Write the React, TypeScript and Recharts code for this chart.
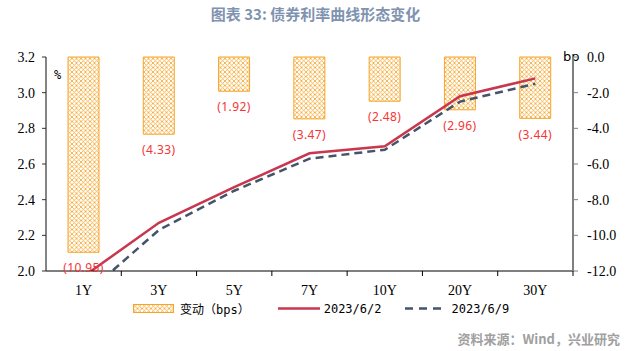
import { ComposedChart, Bar, Line, XAxis, YAxis, LabelList } from "recharts";

const CATEGORIES = ["1Y", "3Y", "5Y", "7Y", "10Y", "20Y", "30Y"];
const CHANGE_BP = [-10.95, -4.33, -1.92, -3.47, -2.48, -2.96, -3.44];
const YIELD_0602 = [1.97, 2.27, 2.47, 2.66, 2.7, 2.98, 3.08];
const YIELD_0609 = [1.86, 2.23, 2.45, 2.63, 2.68, 2.95, 3.05];
const LEFT_TICKS = [2.0, 2.2, 2.4, 2.6, 2.8, 3.0, 3.2];
const RIGHT_TICKS = [-12, -10, -8, -6, -4, -2, 0];

const W = 631;
const H = 351;
const LEFT_W = 46;
const RIGHT_W = 58;
const BAND = (W - LEFT_W - RIGHT_W) / CATEGORIES.length;

const ORANGE = "#F5A52A";
const RED = "#C8374E";
const NAVY = "#44546A";
const SERIF = "'Liberation Serif', 'Times New Roman', serif";
const MONO = "'DejaVu Sans Mono', 'Noto Sans CJK SC', monospace";

const data = CATEGORIES.map((c, i) => ({
  name: c,
  change: CHANGE_BP[i],
  y0602: YIELD_0602[i],
  y0609: YIELD_0609[i],
}));

function XTick(props: any) {
  const { x, y, payload } = props;
  return (
    <g>
      <line x1={x + BAND / 2} x2={x + BAND / 2} y1={y} y2={y + 5} stroke="#000" />
      <text x={x} y={y + 24} textAnchor="middle" fontFamily={SERIF} fontSize={14} fill="#000">
        {payload.value}
      </text>
    </g>
  );
}

function BarLabel(props: any) {
  const { x, y, width, height, value } = props;
  const bottom = Math.max(y, y + height);
  return (
    <text
      x={x + width / 2}
      y={bottom + 17}
      textAnchor="middle"
      dominantBaseline="middle"
      fontFamily="'Noto Sans', sans-serif"
      fontSize={12}
      letterSpacing={0.4}
      fill="#F53535"
    >
      {`(${Math.abs(value).toFixed(2)})`}
    </text>
  );
}

function HatchDefs({ id }: { id: string }) {
  return (
    <defs>
      <pattern id={id} patternUnits="userSpaceOnUse" width={4.5} height={4.5}>
        <rect width={4.5} height={4.5} fill="#fff" />
        <path d="M0,0 L4.5,4.5 M4.5,0 L0,4.5" stroke={ORANGE} strokeWidth={0.8} />
      </pattern>
    </defs>
  );
}

export default function App() {
  return (
    <div
      style={{
        position: "absolute",
        left: 0,
        top: 0,
        width: W,
        height: H,
        background: "#fff",
        fontFamily: "'Noto Sans CJK SC', sans-serif",
      }}
    >
      <div
        style={{
          position: "absolute",
          top: 3,
          left: 0,
          width: W,
          textAlign: "center",
          fontSize: 15,
          fontWeight: 700,
          color: "#7F93B0",
        }}
      >
        图表 33: 债券利率曲线形态变化
      </div>

      <ComposedChart
        width={W}
        height={H}
        data={data}
        margin={{ top: 57, right: 0, bottom: 50, left: 0 }}
        barCategoryGap={0}
      >
        <HatchDefs id="hatch" />
        <XAxis
          dataKey="name"
          height={30}
          tickLine={false}
          tickSize={0}
          tickMargin={0}
          axisLine={{ stroke: "#000", strokeWidth: 1.2 }}
          tick={<XTick />}
          interval={0}
        />
        <YAxis
          yAxisId="left"
          orientation="left"
          width={LEFT_W}
          domain={[2, 3.2]}
          ticks={LEFT_TICKS}
          allowDataOverflow
          tickSize={4}
          tickMargin={7}
          axisLine={{ stroke: "#333", strokeWidth: 1.2 }}
          tickLine={{ stroke: "#333" }}
          tickFormatter={(v: number) => v.toFixed(1)}
          tick={{ fontFamily: SERIF, fontSize: 14, fill: "#000" }}
        />
        <YAxis
          yAxisId="right"
          orientation="right"
          width={RIGHT_W}
          domain={[-12, 0]}
          ticks={RIGHT_TICKS}
          tickSize={5}
          tickMargin={9}
          axisLine={{ stroke: "#7F7F7F", strokeWidth: 2 }}
          tickLine={{ stroke: "#7F7F7F" }}
          tickFormatter={(v: number) => v.toFixed(1)}
          tick={{ fontFamily: SERIF, fontSize: 14, fill: "#000", textAnchor: "start" }}
        />
        <Bar
          yAxisId="right"
          dataKey="change"
          barSize={31}
          fill="url(#hatch)"
          stroke={ORANGE}
          strokeWidth={1}
          isAnimationActive={false}
        >
          <LabelList dataKey="change" content={<BarLabel />} />
        </Bar>
        <Line
          yAxisId="left"
          dataKey="y0602"
          stroke={RED}
          strokeWidth={2.5}
          dot={false}
          isAnimationActive={false}
        />
        <Line
          yAxisId="left"
          dataKey="y0609"
          stroke={NAVY}
          strokeWidth={2.5}
          strokeDasharray="8 5"
          dot={false}
          isAnimationActive={false}
        />
        <text x={54} y={79} fontFamily={MONO} fontSize={12} fill="#000">
          %
        </text>
        <text x={563} y={61} fontFamily="'DejaVu Sans', sans-serif" fontSize={13} fill="#000">
          bp
        </text>
      </ComposedChart>

      <div
        style={{
          position: "absolute",
          top: 300,
          left: 133,
          display: "flex",
          alignItems: "center",
          fontFamily: MONO,
          fontSize: 12,
          color: "#000",
          whiteSpace: "nowrap",
        }}
      >
        <svg width={41} height={9} style={{ display: "block" }}>
          <HatchDefs id="hatch-legend" />
          <rect x={0.5} y={0.5} width={40} height={8} fill="url(#hatch-legend)" stroke={ORANGE} />
        </svg>
        <span style={{ marginLeft: 6 }}>变动（bps）</span>
        <svg width={42} height={9} style={{ display: "block", marginLeft: 28 }}>
          <line x1={0} x2={42} y1={4.5} y2={4.5} stroke={RED} strokeWidth={2.5} />
        </svg>
        <span style={{ marginLeft: 4 }}>2023/6/2</span>
        <svg width={42} height={9} style={{ display: "block", marginLeft: 24 }}>
          <line x1={0} x2={42} y1={4.5} y2={4.5} stroke={NAVY} strokeWidth={2.5} strokeDasharray="8 6" />
        </svg>
        <span style={{ marginLeft: 4 }}>2023/6/9</span>
      </div>

      <div
        style={{
          position: "absolute",
          top: 329,
          right: 11,
          fontSize: 13,
          fontWeight: 700,
          color: "#A0A0A0",
        }}
      >
        资料来源：Wind，兴业研究
      </div>
    </div>
  );
}
